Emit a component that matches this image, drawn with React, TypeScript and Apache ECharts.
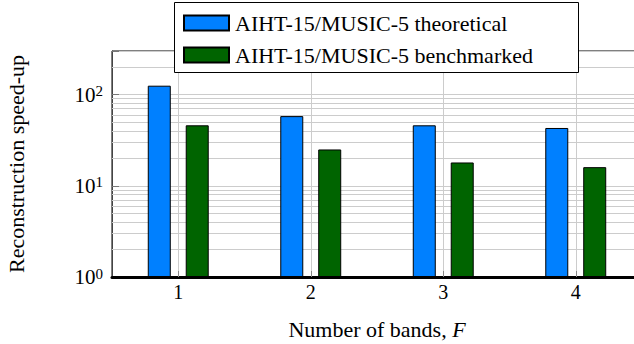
import React, { useEffect, useRef } from "react";
import * as echarts from "echarts";

const categories = ["1", "2", "3", "4"];
const theoretical = [125, 58, 46, 43];
const benchmarked = [46, 25, 18, 16];
const minorGridValues = [2, 3, 4, 5, 6, 7, 8, 9, 20, 30, 40, 50, 60, 70, 80, 90, 200];
const gridPositions = ["0.5", "1", "1.5", "2", "2.5", "3", "3.5", "4", "4.5"];
const seriesNames = ["AIHT-15/MUSIC-5 theoretical", "AIHT-15/MUSIC-5 benchmarked"];

const FONT = "Liberation Serif";

export default function App() {
  const ref = useRef<HTMLDivElement>(null);
  useEffect(() => {
    if (!ref.current) return;
    const chart = echarts.init(ref.current, null, { renderer: "svg" });
    const option: any = {
      animation: false,
      textStyle: { fontFamily: FONT, color: "#000" },
      grid: {
        left: 112,
        top: 51,
        right: 18,
        bottom: 67,
        outerBoundsMode: "none",
        containLabel: false,
        show: true,
        borderColor: "#000",
        borderWidth: 1,
        backgroundColor: "transparent",
      },
      graphic: {
        elements: [
          {
            type: "rect",
            left: 174,
            top: 2,
            z: 10,
            zlevel: 0,
            silent: true,
            shape: { x: 0, y: 0, width: 404, height: 70 },
            style: { fill: "#ffffff", stroke: "#000000", lineWidth: 1 },
          },
        ],
      },
      legend: {
        orient: "vertical",
        left: 174,
        top: 2,
        z: 20,
        padding: [10, 12, 9, 9],
        itemWidth: 45,
        itemHeight: 15,
        itemGap: 10,
        icon: "rect",
        borderWidth: 0,
        backgroundColor: "transparent",
        data: seriesNames,
        textStyle: {
          fontFamily: FONT,
          fontSize: 22,
          color: "#000",
          lineHeight: 20,
          padding: [0, 0, 0, 1],
        },
      },
      xAxis: [
        {
          type: "category",
          data: categories,
          position: "bottom",
          axisLine: { show: true, lineStyle: { color: "#000", width: 3 } },
          axisTick: { show: true, inside: true, alignWithLabel: true, length: 6, lineStyle: { color: "#888" } },
          axisLabel: { fontFamily: FONT, fontSize: 20, color: "#000", margin: 5 },
          splitLine: { show: false },
          name: "Number of bands, {i|F}",
          nameLocation: "middle",
          nameGap: 41,
          nameTextStyle: {
            fontFamily: FONT,
            fontSize: 22,
            color: "#000",
            rich: { i: { fontFamily: FONT, fontSize: 22, fontStyle: "italic", color: "#000" } },
          },
          z: 5,
        },
        {
          type: "category",
          data: gridPositions,
          boundaryGap: false,
          position: "bottom",
          axisLine: { show: false },
          axisTick: { show: false },
          axisLabel: { show: false },
          splitLine: {
            show: true,
            interval: (idx: number) => idx % 2 === 1,
            lineStyle: { color: "#cccccc", width: 1 },
          },
        },
      ],
      yAxis: {
        type: "log",
        logBase: 10,
        min: 1,
        max: 300,
        axisLine: { show: true, lineStyle: { color: "#444", width: 1 } },
        axisTick: { show: true, inside: true, length: 7, lineStyle: { color: "#777" } },
        axisLabel: {
          margin: 9,
          formatter: (v: number) => {
            const l = Math.log10(v);
            const e = Math.round(l);
            if (Math.abs(l - e) > 1e-6) return "";
            return `{b|10}{s|${e}}`;
          },
          rich: {
            b: { fontFamily: FONT, fontSize: 21, lineHeight: 22, color: "#000" },
            s: { fontFamily: FONT, fontSize: 15, lineHeight: 14, verticalAlign: "top", color: "#000" },
          },
        },
        splitLine: { show: true, lineStyle: { color: "#cccccc", width: 1 } },
        name: "Reconstruction speed-up",
        nameLocation: "middle",
        nameRotate: 90,
        nameGap: 85,
        nameTextStyle: { fontFamily: FONT, fontSize: 22, color: "#000" },
      },
      series: [
        {
          name: seriesNames[0],
          type: "bar",
          xAxisIndex: 0,
          data: theoretical,
          barWidth: 23,
          barGap: "65%",
          itemStyle: { color: "#0080ff", borderColor: "#000", borderWidth: 1 },
          z: 3,
          markLine: {
            silent: true,
            z: 1,
            symbol: ["none", "none"],
            label: { show: false },
            lineStyle: { color: "#cccccc", width: 1, type: "solid" },
            data: minorGridValues.map((v) => ({ yAxis: v })),
          },
        },
        {
          name: seriesNames[1],
          type: "bar",
          xAxisIndex: 0,
          data: benchmarked,
          barWidth: 23,
          barGap: "65%",
          itemStyle: { color: "#006400", borderColor: "#000", borderWidth: 1 },
          z: 3,
        },
      ],
    };
    chart.setOption(option);
    return () => chart.dispose();
  }, []);
  return (
    <div
      ref={ref}
      style={{ position: "fixed", left: 0, top: 0, width: 660, height: 344, background: "#fff" }}
    />
  );
}
